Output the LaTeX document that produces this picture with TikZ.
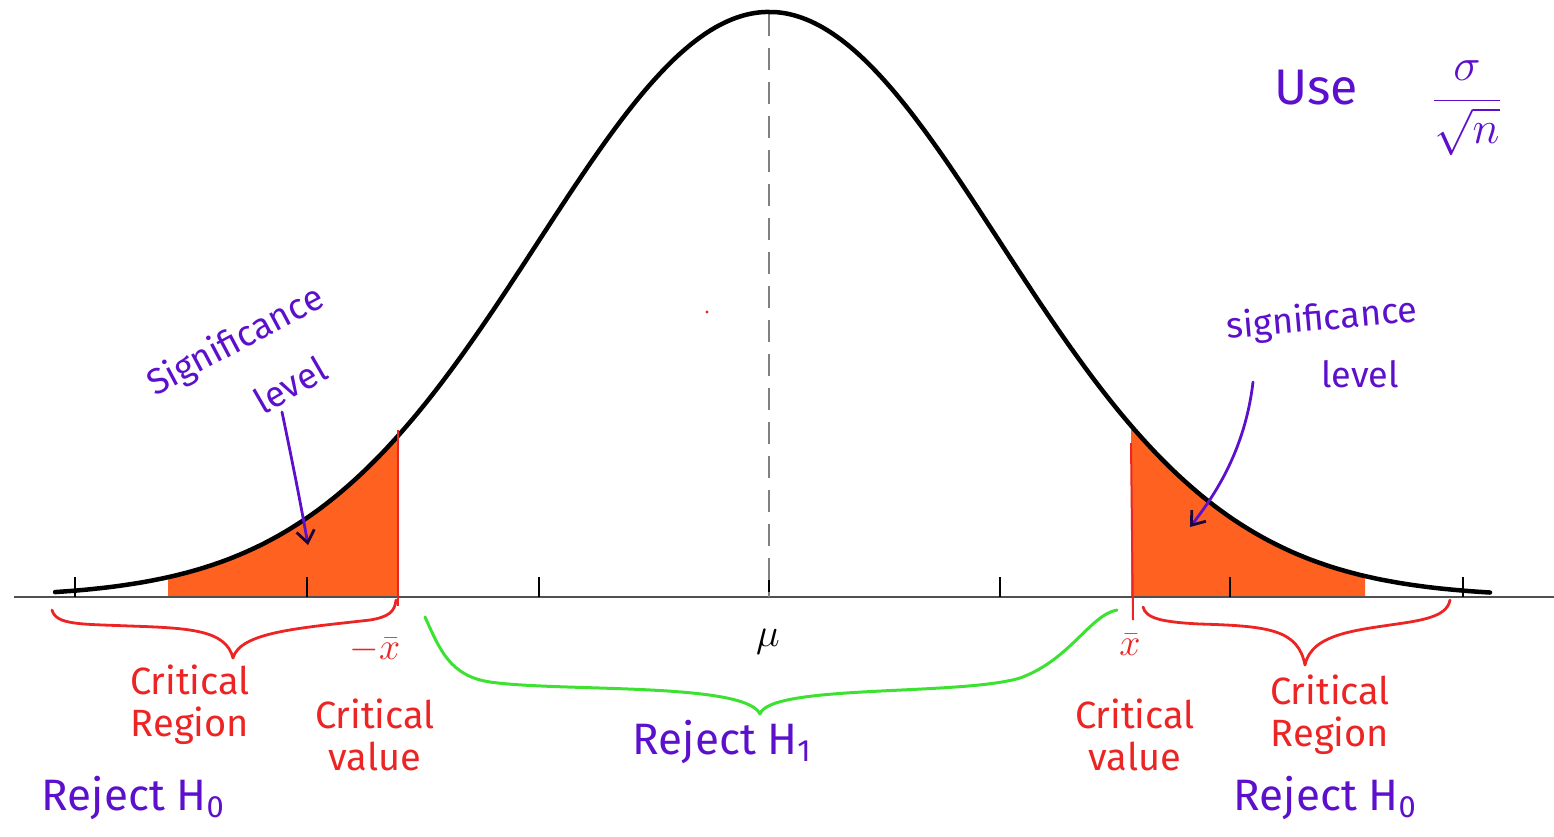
\RequirePackage{fix-cm}
\documentclass[tikz,border=0pt]{standalone}
\usepackage{fontspec}
\setmainfont{Fira Sans}
\usetikzlibrary{arrows.meta}
\definecolor{fillorange}{RGB}{255,98,32}
\definecolor{hred}{RGB}{236,36,36}
\definecolor{hgreen}{RGB}{60,225,50}
\definecolor{hpurple}{RGB}{92,16,204}
\definecolor{axisgray}{RGB}{80,80,80}
\tikzset{
  declare function={gy(\x)=597-585*exp(-0.5*((\x-769)/231)^2);},
  curveline/.style={line width=4.5pt,black,line cap=round},
  axisline/.style={line width=2.5pt,axisgray},
  tickline/.style={line width=2.5pt,black},
  redline/.style={line width=2.8pt,hred,line cap=round,line join=round},
  greenline/.style={line width=3pt,hgreen,line cap=round,line join=round},
  purplearrow/.style={line width=2.8pt,hpurple,line cap=round,-{Straight Barb[length=12pt,width=18pt,color=black!70!hpurple]}},
  redlabel/.style={hred,align=center,font=\fontsize{38}{42}\selectfont},
  purplelabel/.style={hpurple,align=center,font=\fontsize{44}{48}\selectfont},
  siglabel/.style={hpurple,align=center,font=\fontsize{36}{40}\selectfont},
}
\begin{document}
\begin{tikzpicture}[x=1pt,y=-1pt]
\useasboundingbox (0,0) rectangle (1554,836);
% shaded tails
\fill[fillorange] (168,597) -- plot[domain=168:398,samples=60] (\x,{gy(\x)}) -- (398,597) -- cycle;
\fill[fillorange] (1131,597) -- plot[domain=1131:1365,samples=60] (\x,{gy(\x)}) -- (1365,597) -- cycle;
% axis
\draw[axisline] (14,597) -- (1554,597);
% ticks
\foreach \t/\n in {75/t1,307/t2,539/t3,769/t4,1000/t5,1230/t6,1463/t7}
  \draw[tickline] (\t,577) -- (\t,597) coordinate (\n);
% dashed mean line
\coordinate (top) at (769,14);
\draw[line width=2.5pt,gray,dash pattern=on 22pt off 12pt] (top) -- (t4);
% curve
\draw[curveline] plot[domain=55:1490,samples=240,smooth] (\x,{gy(\x)});
% critical value lines
\coordinate (cvLtop) at (398,430);
\coordinate (cvLbot) at (398,606);
\coordinate (cvRtop) at (1131,443);
\coordinate (cvRbot) at (1133,620);
\draw[line width=2pt,hred] (cvLtop) -- (cvLbot);
\draw[line width=2pt,hred] (cvRtop) -- (cvRbot);
% stray dot
\fill[hred] (707,312) circle (1.6pt);
% braces
\coordinate (bL1) at (52,610);
\coordinate (bL2) at (396,600);
\draw[redline] (bL1) .. controls (56,625) and (80,624) .. (130,626)
  .. controls (190,628) and (226,630) .. (233,658)
  .. controls (240,632) and (300,628) .. (370,620)
  .. controls (388,617) and (395,612) .. (bL2);
\coordinate (bG1) at (425,617);
\coordinate (bG2) at (1117,610);
\draw[greenline] (bG1) .. controls (440,650) and (450,676) .. (490,682)
  .. controls (560,692) and (745,682) .. (760,714)
  .. controls (770,684) and (960,696) .. (1020,678)
  .. controls (1070,660) and (1090,615) .. (bG2);
\coordinate (bR1) at (1143,607);
\coordinate (bR2) at (1450,600);
\draw[redline] (bR1) .. controls (1146,618) and (1160,622) .. (1200,624)
  .. controls (1270,626) and (1298,630) .. (1305,665)
  .. controls (1312,632) and (1360,630) .. (1410,622)
  .. controls (1440,617) and (1448,610) .. (bR2);
% labels
\node[redlabel] (xbarL) at (375,650) {$-\bar{x}$};
\node[redlabel] (critregL) at (190,705) {Critical\\Region};
\node[redlabel] (critvalL) at (375,735) {Critical\\value};
\node[purplelabel] (rejH0L) at (133,798) {Reject H\textsubscript{0}};
\node[font=\fontsize{40}{44}\selectfont] (mu) at (768,642) {$\mu$};
\node[purplelabel] (rejH1) at (722,742) {Reject H\textsubscript{1}};
\node[redlabel] (xbarR) at (1130,645) {$\bar{x}$};
\node[redlabel] (critvalR) at (1135,735) {Critical\\value};
\node[redlabel] (critregR) at (1330,715) {Critical\\Region};
\node[purplelabel] (rejH0R) at (1325,798) {Reject H\textsubscript{0}};
\node[hpurple,font=\fontsize{50}{56}\selectfont] (use) at (1316,88) {Use};
\node[hpurple,font=\fontsize{46}{52}\selectfont] (frac) at (1467,108) {$\displaystyle\frac{\sigma}{\sqrt{n}}$};
% significance labels
\node[siglabel,rotate=28] (sigL1) at (236,342) {Significance};
\node[siglabel,rotate=30] (sigL2) at (290,385) {level};
\node[siglabel,rotate=5] (sigR1) at (1322,320) {significance};
\node[siglabel] (sigR2) at (1360,374) {level};
% arrows
\coordinate (aL1) at (282,412);
\coordinate (aL2) at (308,545);
\coordinate (aR1) at (1253,382);
\coordinate (aR2) at (1190,527);
\draw[purplearrow] (aL1) .. controls (292,460) and (300,500) .. (aL2);
\draw[purplearrow] (aR1) .. controls (1245,450) and (1215,495) .. (aR2);
\end{tikzpicture}
\end{document}
